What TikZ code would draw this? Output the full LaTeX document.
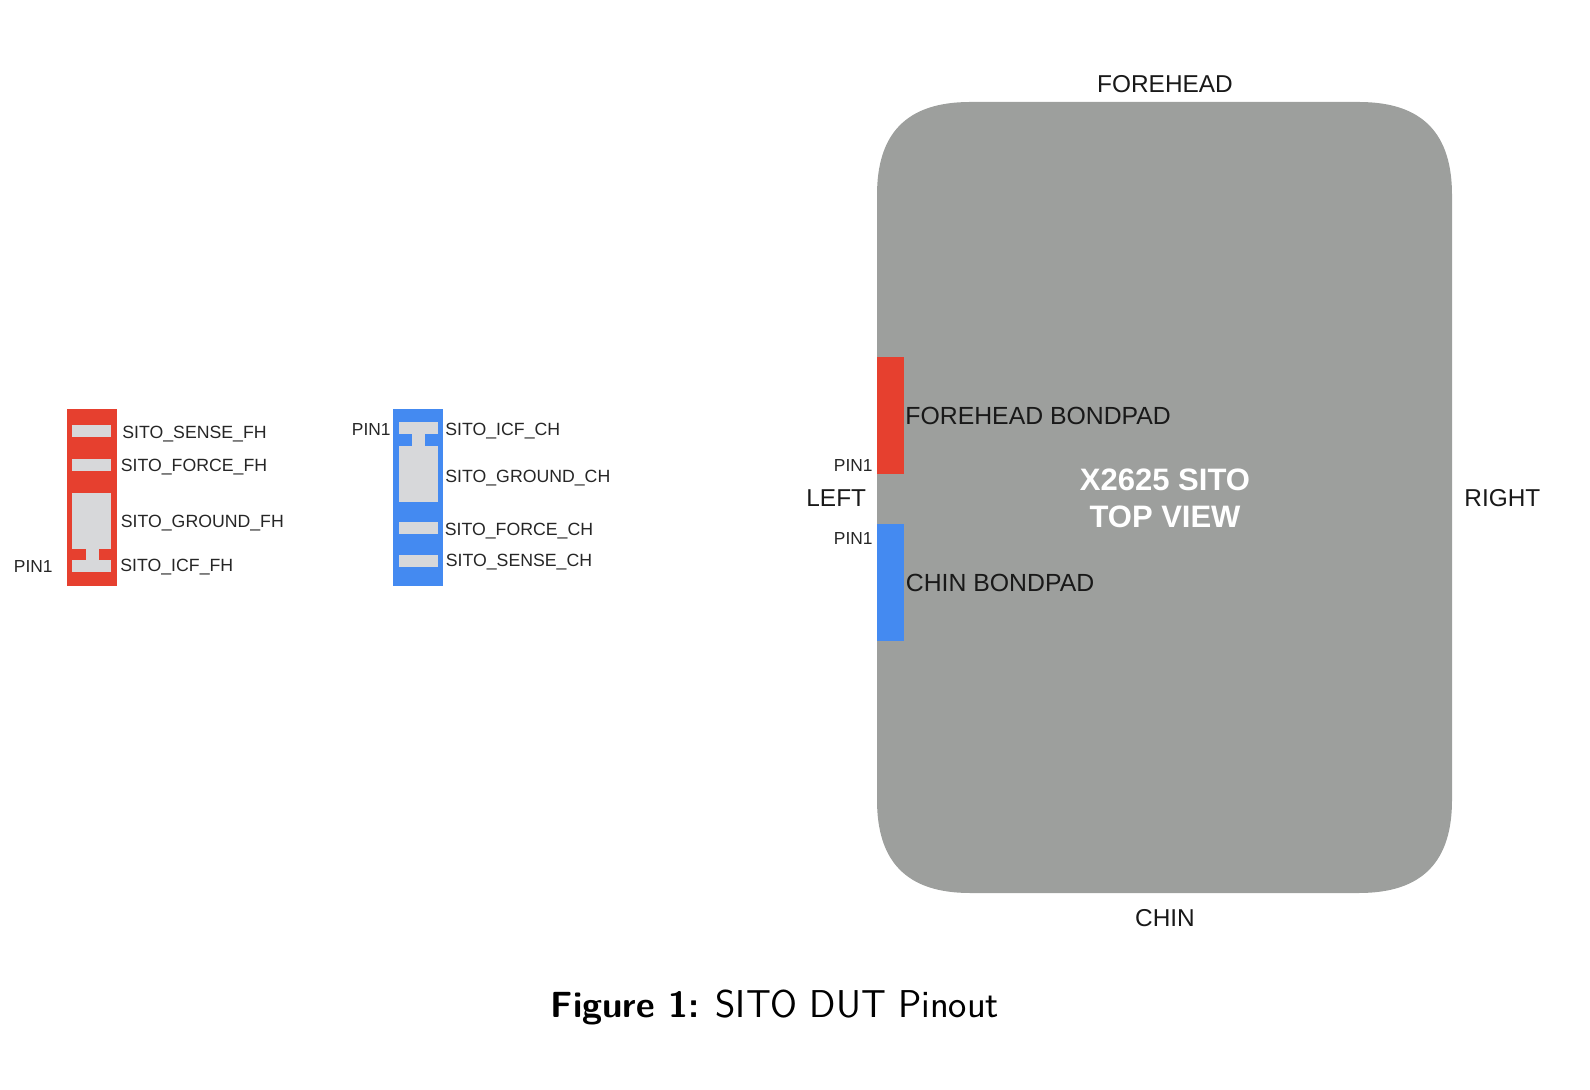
\documentclass[tikz,border=0pt]{standalone}
\usepackage{fontspec}
\setmainfont{Liberation Sans}
\setsansfont{Latin Modern Sans}
\definecolor{myred}{HTML}{E6402F}
\definecolor{myblue}{HTML}{448AF1}
\definecolor{mygray}{HTML}{9D9F9D}
\definecolor{mypad}{HTML}{D7D8DA}
\tikzset{
    pinlabel/.style={anchor=west, inner sep=0pt, text=black!85, font=\fontsize{8.85}{10}\selectfont},
    pinone/.style={anchor=east, inner sep=0pt, text=black!85, font=\fontsize{8.7}{10}\selectfont},
    sidelabel/.style={inner sep=0pt, text=black!90, font=\fontsize{12.2}{14}\selectfont},
    padlabel/.style={anchor=west, inner sep=0pt, text=black!90, font=\fontsize{12.4}{14}\selectfont}
}
\begin{document}
\begin{tikzpicture}[x=0.5pt, y=-0.5pt]
        \useasboundingbox (0,0) rectangle (1590,1090);

        % forehead flex
        \fill[myred] (66.5,409) rectangle (116.5,586);
        \fill[mypad] (72,425) rectangle (111,437);
        \fill[mypad] (72,459) rectangle (111,471);
        \fill[mypad] (72,493) rectangle (111,549);
        \fill[mypad] (86,549) rectangle (99,560);
        \fill[mypad] (72,560) rectangle (111,572);
        \node[pinlabel] (senseFH) at (122,434) {SITO\_SENSE\_FH};
        \node[pinlabel] (forceFH) at (120.5,467) {SITO\_FORCE\_FH};
        \node[pinlabel] (groundFH) at (120.5,523) {SITO\_GROUND\_FH};
        \node[pinlabel] (icfFH) at (120,567) {SITO\_ICF\_FH};
        \node[pinone] (pinFH) at (53,567) {PIN1};

        % chin flex
        \fill[myblue] (393,409) rectangle (443,586);
        \fill[mypad] (398.5,422) rectangle (438,434);
        \fill[mypad] (412,434) rectangle (425,446);
        \fill[mypad] (398.5,446) rectangle (438,502);
        \fill[mypad] (398.5,522) rectangle (438,534);
        \fill[mypad] (398.5,555) rectangle (438,567);
        \node[pinlabel] (icfCH) at (445,431) {SITO\_ICF\_CH};
        \node[pinlabel] (groundCH) at (445,478) {SITO\_GROUND\_CH};
        \node[pinlabel] (forceCH) at (444.5,531) {SITO\_FORCE\_CH};
        \node[pinlabel] (senseCH) at (445.5,562) {SITO\_SENSE\_CH};
        \node[pinone] (pinCH) at (391,430) {PIN1};

        % top view
        \fill[mygray] (877,195) .. controls (877,135) and (905,102) .. (970,102)
            -- (1359,102) .. controls (1424,102) and (1452,135) .. (1452,195)
            -- (1452,800) .. controls (1452,860) and (1424,893) .. (1359,893)
            -- (970,893) .. controls (905,893) and (877,860) .. (877,800) -- cycle;
        \fill[myred] (877,357) rectangle (904,474);
        \fill[myblue] (877,524) rectangle (904,641);
        \node[padlabel] (padFH) at (905,416) {FOREHEAD BONDPAD};
        \node[padlabel] (padCH) at (905.5,583) {CHIN BONDPAD};
        \node[pinone] (pinTopFH) at (873,466) {PIN1};
        \node[pinone] (pinTopCH) at (873,539) {PIN1};
        \node[sidelabel] (forehead) at (1165,84) {FOREHEAD};
        \node[sidelabel] (chin) at (1165,918) {CHIN};
        \node[sidelabel, anchor=west] (left) at (806,498) {LEFT};
        \node[sidelabel, anchor=west] (right) at (1464,498) {RIGHT};
        \node[inner sep=0pt, text=white, align=center, font=\fontsize{15.5}{18.4}\selectfont\bfseries] (title) at (1165,498) {X2625 SITO\\TOP VIEW};

        \node[inner sep=0pt, font=\fontsize{19.4}{22}\selectfont\sffamily] (caption) at (775,1007) {{\fontsize{18.2}{22}\selectfont\bfseries Figure 1:} SITO DUT Pinout};
\end{tikzpicture}
\end{document}
